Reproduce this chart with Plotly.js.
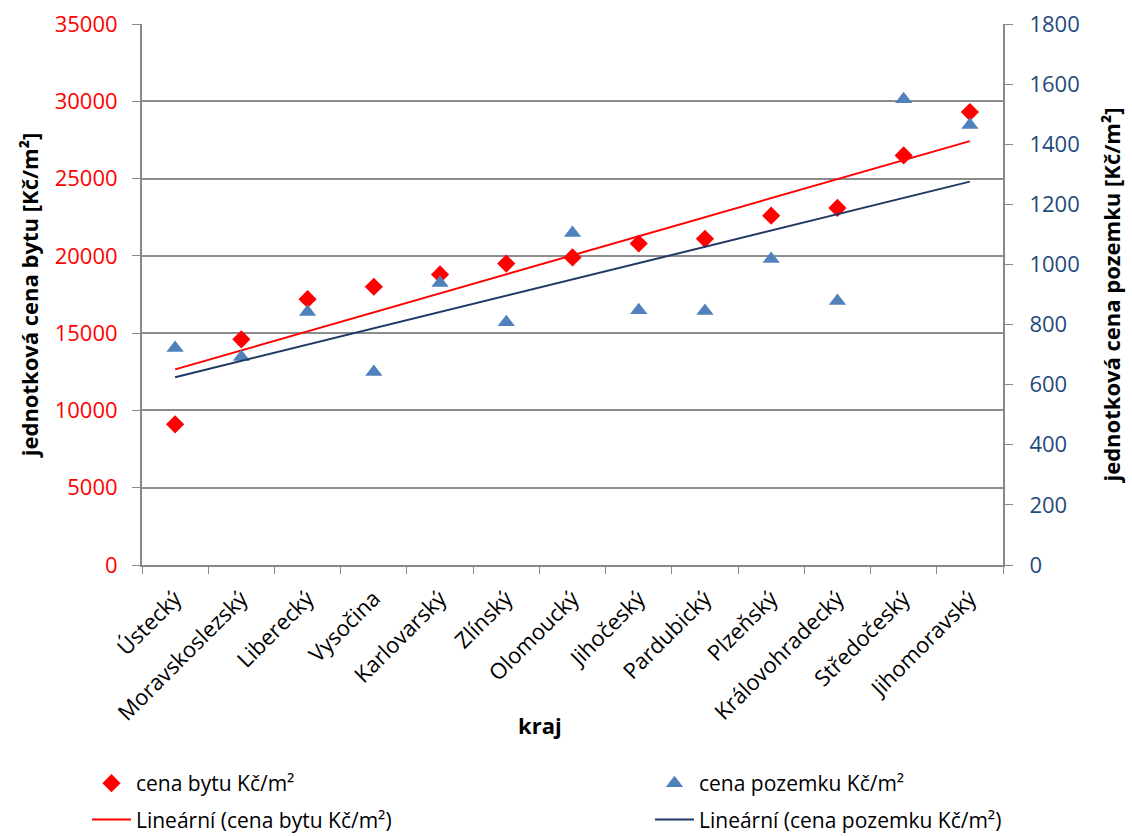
<!DOCTYPE html>
<html>
<head>
<meta charset="utf-8">
<script src="https://cdn.plot.ly/plotly-3.0.1.min.js"></script>
<style>html,body{margin:0;padding:0;background:#fff;}#chart{width:1132px;height:836px;}</style>
</head>
<body>
<div id="chart"></div>
<script>
const categories = ["Ústecký","Moravskoslezský","Liberecký","Vysočina","Karlovarský","Zlínský","Olomoucký","Jihočeský","Pardubický","Plzeňský","Královohradecký","Středočeský","Jihomoravský"];
const cenaBytu = [9100,14600,17200,18000,18800,19500,19900,20800,21100,22600,23100,26500,29300];
const cenaPozemku = [722,692,842,642,938,808,1105,848,845,1018,878,1550,1464];
const leftTicks = [0,5000,10000,15000,20000,25000,30000,35000];
const rightTicks = [0,200,400,600,800,1000,1200,1400,1600,1800];

function linFit(vals){
  const n = vals.length;
  let sx=0, sy=0, sxx=0, sxy=0;
  vals.forEach((v,i)=>{const x=i+1; sx+=x; sy+=v; sxx+=x*x; sxy+=x*v;});
  const b = (n*sxy - sx*sy)/(n*sxx - sx*sx);
  const a = (sy - b*sx)/n;
  return vals.map((v,i)=>a+b*(i+1));
}
const fitBytu = linFit(cenaBytu);
const fitPozemku = linFit(cenaPozemku);

const FONT = "Open Sans, Lato, sans-serif";

const traces = [
  {x: categories, y: cenaBytu, type:'scatter', mode:'markers', name:'cena bytu Kč/m²',
   marker:{symbol:'diamond', size:14, color:'#FF0000'}, legend:'legend', legendgroup:'a', cliponaxis:false},
  {x: categories, y: fitBytu, type:'scatter', mode:'lines', name:'Lineární (cena bytu Kč/m²)',
   line:{color:'#FF0000', width:2}, legend:'legend', legendgroup:'b'},
  {x: categories, y: cenaPozemku, type:'scatter', mode:'markers', name:'cena pozemku Kč/m²', yaxis:'y2',
   marker:{symbol:'triangle-up', size:15, color:'#4F81BD'}, legend:'legend2', legendgroup:'c', cliponaxis:false},
  {x: categories, y: fitPozemku, type:'scatter', mode:'lines', name:'Lineární (cena pozemku Kč/m²)', yaxis:'y2',
   line:{color:'#1F3864', width:2}, legend:'legend2', legendgroup:'d'}
];

const legendCommon = {
  orientation:'v', xanchor:'left', yanchor:'top', traceorder:'grouped', tracegroupgap:6,
  font:{family:FONT, size:21, color:'#000'}, bgcolor:'rgba(0,0,0,0)', borderwidth:0, itemwidth:39
};

const layout = {
  width:1132, height:836,
  margin:{l:142, r:129, t:24, b:271, autoexpand:false},
  paper_bgcolor:'#fff', plot_bgcolor:'#fff',
  font:{family:FONT, size:18, color:'#000'},
  showlegend:true,
  xaxis:{
    type:'category', tickangle:-45, ticks:'outside', tickson:'boundaries', ticklen:7, tickcolor:'#888',
    showline:true, linecolor:'#888', linewidth:2, showgrid:false, ticklabelstandoff:10,
    tickfont:{family:FONT, size:22, color:'#000'},
    range:[-0.5, 12.5]
  },
  yaxis:{
    range:[0,35000], tickvals:leftTicks, ticktext:leftTicks.map(String),
    ticks:'outside', ticklen:8, tickcolor:'#888', showline:true, linecolor:'#888', linewidth:2,
    showgrid:true, gridcolor:'#8c8c8c', gridwidth:2, zeroline:false, ticklabelstandoff:10,
    tickfont:{family:FONT, size:22, color:'#FF0000'},
    title:{text:'<b>jednotková cena bytu [Kč/m²]</b>', font:{family:FONT, size:22, color:'#000'}, standoff:10}
  },
  yaxis2:{
    overlaying:'y', side:'right', range:[0,1800], tickvals:rightTicks, ticktext:rightTicks.map(String),
    ticks:'outside', ticklen:8, tickcolor:'#888', showline:true, linecolor:'#888', linewidth:2,
    showgrid:false, zeroline:false, ticklabelstandoff:12,
    tickfont:{family:FONT, size:22, color:'#1F497D'},
    title:{text:'<b>jednotková cena pozemku [Kč/m²]</b>', font:{family:FONT, size:22, color:'#000'}, standoff:26}
  },
  annotations:[
    {text:'<b>kraj</b>', xref:'paper', yref:'paper', x:(540-142)/861, y:-(725-565)/541,
     xanchor:'center', yanchor:'middle', showarrow:false, font:{family:FONT, size:22, color:'#000'}}
  ],
  legend:Object.assign({}, legendCommon, {x:-0.0639, y:-0.366}),
  legend2:Object.assign({}, legendCommon, {x:0.590, y:-0.366})
};

Plotly.newPlot('chart', traces, layout, {displayModeBar:false, staticPlot:true});
</script>
</body>
</html>
